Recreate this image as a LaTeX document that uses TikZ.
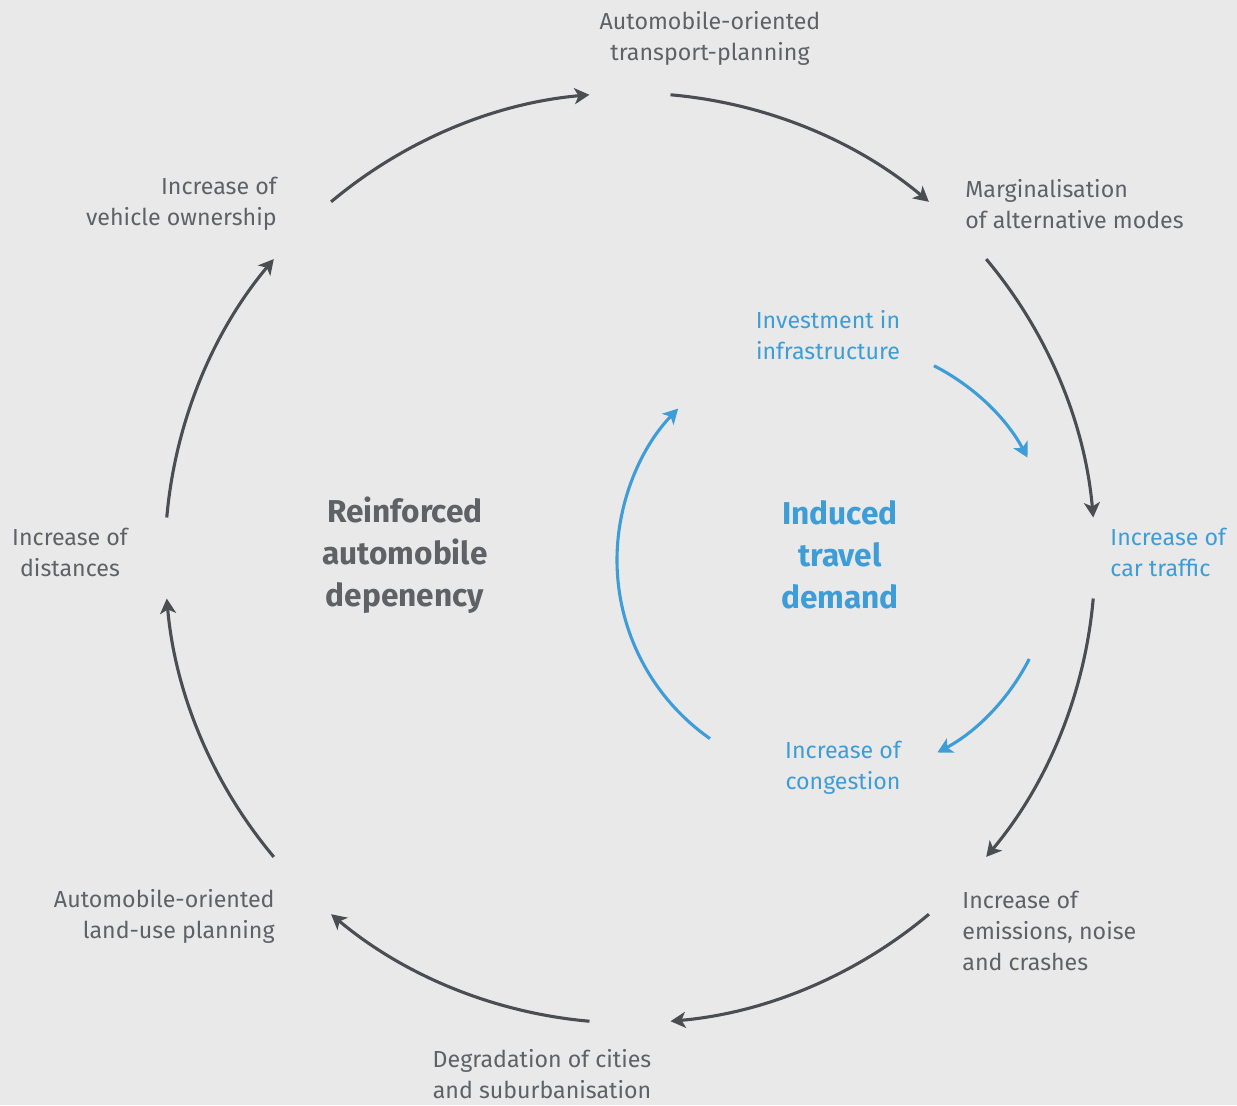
\documentclass[tikz,border=0pt]{standalone}
\usepackage{fontspec}
\setmainfont{Fira Sans}
\usetikzlibrary{arrows.meta,calc}
\definecolor{bgc}{HTML}{E9E9E9}
\definecolor{txtg}{HTML}{5E6266}
\definecolor{arrg}{HTML}{4A4D52}
\definecolor{bluet}{HTML}{3E9DD6}
\begin{document}
\begin{tikzpicture}[x=0.5pt,y=0.5pt,
  lbl/.style={font=\fontsize{11.6}{15.5}\selectfont, text=txtg, inner sep=0pt},
  blbl/.style={lbl, text=bluet},
  big/.style={font=\fontsize{15.8}{21}\selectfont\bfseries, text=txtg, align=center, inner sep=0pt},
  garr/.style={draw=arrg, line width=1.55pt, -{Stealth[length=7.5pt,width=8pt,inset=2pt]}},
  barr/.style={draw=bluet, line width=1.55pt, -{Stealth[length=7.5pt,width=8pt,inset=2pt]}}]
\fill[bgc] (0,0) rectangle (1237,-1105);
\coordinate (O) at (630,-558);
\coordinate (I) at (835,-560);
% labels
\node[lbl, align=center] (tp) at (710,-38) {Automobile-oriented\\transport-planning};
\node[lbl, align=left, anchor=west] (ma) at (965,-204) {Marginalisation\\of alternative modes};
\node[blbl, align=left, anchor=west] (ct) at (1110,-552) {Increase of\\car traffic};
\node[lbl, align=left, anchor=west] (em) at (962,-931) {Increase of\\emissions, noise\\and crashes};
\node[lbl, align=center] (dg) at (542,-1074) {Degradation of cities\\and suburbanisation};
\node[lbl, align=right, anchor=east] (lu) at (275,-916) {Automobile-oriented\\land-use planning};
\node[lbl, align=center] (di) at (70,-552) {Increase of\\distances};
\node[lbl, align=right, anchor=east] (vo) at (277,-204) {Increase of\\vehicle ownership};
\node[blbl, align=center] (inv) at (828,-335) {Investment in\\infrastructure};
\node[blbl, align=center] (cg) at (843,-768) {Increase of\\congestion};
\node[big] (rad) at (405,-555) {Reinforced\\automobile\\depenency};
\node[big, text=bluet] (itd) at (840,-555) {Induced\\travel\\demand};
% outer arc start points
\coordinate (s1) at ($(O)+(130:465)$);
\coordinate (s2) at ($(O)+(85:465)$);
\coordinate (s3) at ($(O)+(40:465)$);
\coordinate (s4) at ($(O)+(-5:465)$);
\coordinate (s5) at ($(O)+(-50:465)$);
\coordinate (s6) at ($(O)+(-95:465)$);
\coordinate (s7) at ($(O)+(-140:465)$);
\coordinate (s8) at ($(O)+(175:465)$);
\draw[garr] (s1) arc[start angle=130, end angle=95, radius=465];
\draw[garr] (s2) arc[start angle=85, end angle=50, radius=465];
\draw[garr] (s3) arc[start angle=40, end angle=5, radius=465];
\draw[garr] (s4) arc[start angle=-5, end angle=-40, radius=465];
\draw[garr] (s5) arc[start angle=-50, end angle=-85, radius=465];
\draw[garr] (s6) arc[start angle=-95, end angle=-130, radius=465];
\draw[garr] (s7) arc[start angle=-140, end angle=-175, radius=465];
\draw[garr] (s8) arc[start angle=175, end angle=140, radius=465];
% inner arcs
\coordinate (b1) at ($(I)+(63:218)$);
\coordinate (b2) at ($(I)+(-27:218)$);
\coordinate (b3) at ($(I)+(235:218)$);
\draw[barr] (b1) arc[start angle=63, end angle=28, radius=218];
\draw[barr] (b2) arc[start angle=-27, end angle=-62, radius=218];
\draw[barr] (b3) arc[start angle=235, end angle=136, radius=218];
\end{tikzpicture}
\end{document}
